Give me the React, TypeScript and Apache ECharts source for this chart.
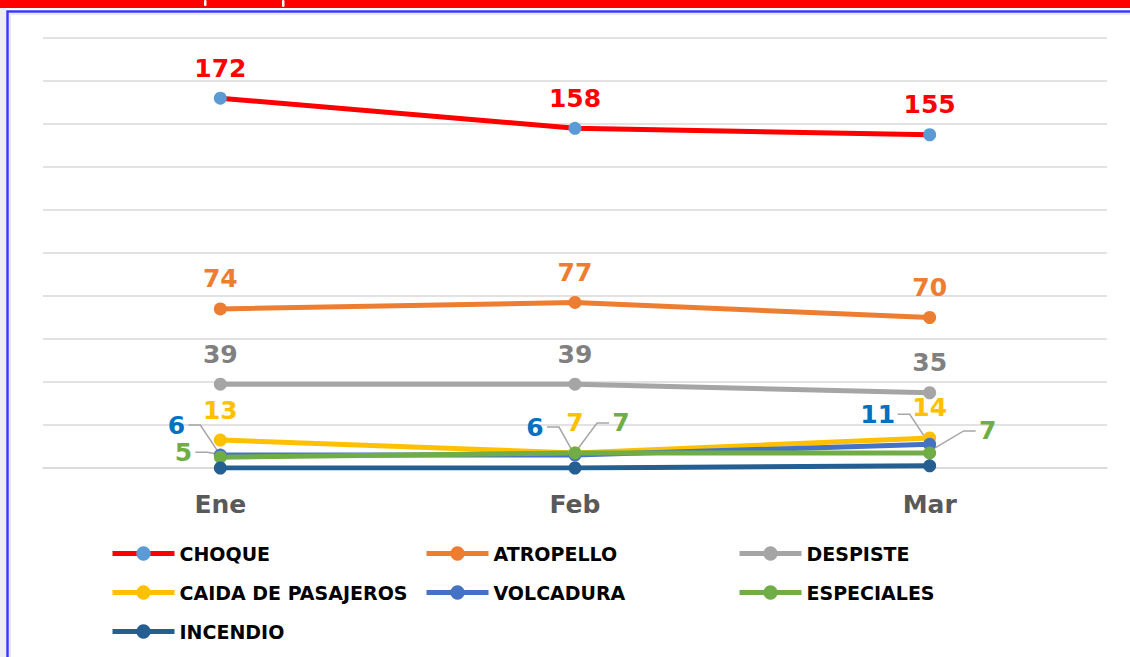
import React, { useEffect, useRef } from "react";
import * as echarts from "echarts";

const categories = ["Ene", "Feb", "Mar"];
const seriesNames = [
  "CHOQUE",
  "ATROPELLO",
  "DESPISTE",
  "CAIDA DE PASAJEROS",
  "VOLCADURA",
  "ESPECIALES",
  "INCENDIO",
];
const choque = [172, 158, 155];
const atropello = [74, 77, 70];
const despiste = [39, 39, 35];
const caida = [13, 7, 14];
const volcadura = [6, 6, 11];
const especiales = [5, 7, 7];
const incendio = [0, 0, 1];
const yMax = 200;
const yInterval = 20;

// label offsets (px) for crowded labels
const volOffsets = [
  [-44, -30],
  [-40, -28],
  [-52, -30],
];
const espOffsets = [
  [-37, -5],
  [46, -30],
  [58, -22],
];

const FONT = "DejaVu Sans";

function App() {
  const ref = useRef<HTMLDivElement>(null);

  useEffect(() => {
    if (!ref.current) return;
    const chart = echarts.init(ref.current, undefined, { renderer: "svg" });

    const mk = (
      name: string,
      data: any[],
      lineColor: string,
      markerColor: string,
      labelColor: string,
      showLabel: boolean
    ) => ({
      name,
      type: "line",
      data,
      symbol: "circle",
      symbolSize: 13,
      lineStyle: { color: lineColor, width: 5 },
      itemStyle: { color: markerColor },
      label: {
        show: showLabel,
        position: "top",
        distance: 11,
        color: labelColor,
        fontFamily: FONT,
        fontWeight: "bold",
        fontSize: 25,
      },
      emphasis: { disabled: true },
    });

    const volData = volcadura.map((v, i) => ({
      value: v,
      label: { position: "inside", offset: volOffsets[i] },
    }));
    const espData = especiales.map((v, i) => ({
      value: v,
      label: { position: "inside", offset: espOffsets[i] },
    }));

    const colX = [105, 419, 732];
    const rowY = [553, 592, 631];

    const legends = seriesNames.map((n, i) => ({
      data: [n],
      left: colX[i % 3],
      top: rowY[Math.floor(i / 3)] - 14,
      itemWidth: 62,
      itemHeight: 18,
      selectedMode: false,
      lineStyle: { width: 5 },
      textStyle: {
        fontFamily: FONT,
        fontWeight: "bold",
        fontSize: 19,
        color: "#000000",
      },
    }));

    const parenBits = [
      { x: 204, y: 0, w: 2.5, h: 6 },
      { x: 282, y: 0, w: 2.5, h: 7 },
    ];

    chart.setOption({
      animation: false,
      backgroundColor: "#ffffff",
      grid: { left: 43, right: 23, top: 38, bottom: 189 },
      legend: legends,
      xAxis: {
        type: "category",
        data: categories,
        boundaryGap: true,
        axisLine: { lineStyle: { color: "#D9D9D9", width: 1.5 } },
        axisTick: { show: false },
        axisLabel: {
          color: "#595959",
          fontFamily: FONT,
          fontWeight: "bold",
          fontSize: 25,
          margin: 24,
        },
      },
      yAxis: {
        type: "value",
        min: 0,
        max: yMax,
        interval: yInterval,
        axisLabel: { show: false },
        axisLine: { show: false },
        axisTick: { show: false },
        splitLine: { lineStyle: { color: "#D9D9D9", width: 1.5 } },
      },
      graphic: [
        { type: "rect", id: "shade", shape: { x: 0, y: 8, width: 6, height: 660 }, style: { fill: "#EEEEEE" }, silent: true },
        { type: "rect", id: "topbar", shape: { x: 0, y: 0, width: 1130, height: 8 }, style: { fill: "#FF0000" }, silent: true },
        ...parenBits.map((b, i) => ({
          type: "rect",
          id: "pb" + i,
          shape: { x: b.x, y: b.y, width: b.w, height: b.h, r: 1 },
          style: { fill: "#ffffff" },
          silent: true,
        })),
        { type: "rect", id: "frame2", shape: { x: 10, y: 14, width: 1200, height: 700 }, style: { fill: "none", stroke: "#E4E4E4", lineWidth: 1.5 }, silent: true },
        { type: "rect", id: "frame", shape: { x: 7.5, y: 11.5, width: 1200, height: 700 }, style: { fill: "none", stroke: "#3A3AFF", lineWidth: 2.5 }, silent: true },
      ],
      series: [
        mk(seriesNames[0], choque, "#FF0000", "#5B9BD5", "#FF0000", true),
        mk(seriesNames[1], atropello, "#ED7D31", "#ED7D31", "#ED7D31", true),
        mk(seriesNames[2], despiste, "#A5A5A5", "#A5A5A5", "#808080", true),
        mk(seriesNames[3], caida, "#FFC000", "#FFC000", "#FFC000", true),
        mk(seriesNames[4], volData, "#4472C4", "#4472C4", "#0070C0", true),
        mk(seriesNames[5], espData, "#70AD47", "#70AD47", "#70AD47", true),
        mk(seriesNames[6], incendio, "#255E91", "#255E91", "#255E91", false),
      ],
    });

    // leader lines from moved labels back to their points
    const leaders: any[] = [];
    const addLeader = (vals: number[], offs: number[][], halfW: number[], key: string) => {
      vals.forEach((v, i) => {
        const p = chart.convertToPixel({ xAxisIndex: 0, yAxisIndex: 0 }, [i, v]) as number[];
        const lx = p[0] + offs[i][0];
        const ly = p[1] + offs[i][1];
        const dir = offs[i][0] < 0 ? 1 : -1;
        const sx = lx + dir * (halfW[i] + 4);
        const mx = sx + dir * 12;
        leaders.push({
          type: "polyline",
          id: key + i,
          z: 1,
          silent: true,
          shape: { points: [[sx, ly], [mx, ly], [p[0] - dir * 2, p[1] - 3]] },
          style: { stroke: "#A6A6A6", lineWidth: 1.5, fill: "none" },
        });
      });
    };
    addLeader(volcadura, volOffsets, [8, 8, 16], "vl");
    addLeader(especiales, espOffsets, [8, 8, 8], "el");
    chart.setOption({ graphic: leaders });

    return () => chart.dispose();
  }, []);

  return (
    <div
      ref={ref}
      style={{ position: "fixed", left: 0, top: 0, width: 1130, height: 657 }}
    />
  );
}

export default App;
